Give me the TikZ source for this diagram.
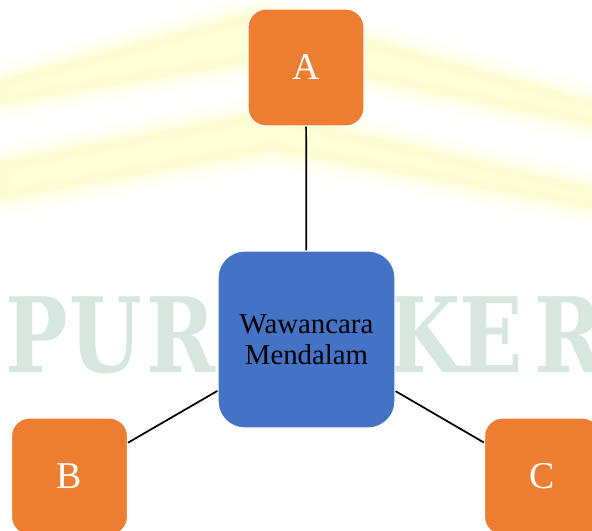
\documentclass[tikz,border=0pt]{standalone}
\usepackage{fontspec}
\setmainfont{Liberation Serif}
\newfontfamily\markfont{DejaVu Serif}
\definecolor{boxorange}{HTML}{ED7D31}
\definecolor{boxblue}{HTML}{4472C4}
\definecolor{markgreen}{RGB}{216,230,224}
\definecolor{markyellow}{RGB}{252,252,206}
\begin{document}
\begin{tikzpicture}[x=0.75pt,y=-0.75pt,
  outerbox/.style={rectangle, rounded corners=13.5pt, fill=boxorange, draw=white,
    line width=0.9pt, minimum width=87pt, minimum height=87.75pt, inner sep=0pt,
    text=white, font=\fontsize{28.4}{30}\selectfont},
  hubbox/.style={rectangle, rounded corners=20pt, fill=boxblue, draw=white,
    line width=0.9pt, minimum size=132.75pt, inner sep=0pt, align=center,
    text=black, font=\fontsize{21.6}{23.4}\selectfont},
  link/.style={draw=black, line width=1.3pt},
  wmletter/.style={anchor=base, inner sep=0pt, text=markgreen,
    font=\markfont\bfseries\fontsize{78}{78}\selectfont}]
\useasboundingbox (0,0) rectangle (592,531);
\clip (0,0) rectangle (592,531);

% soft yellow chevron bands in the background
\foreach \w/\o in {26/0.12, 18/0.16, 11/0.22, 5/0.3} {
  \draw[markyellow, line width=\w pt, opacity=\o, line join=round]
    (0,80) -- (262,10) -- (600,103) -- (600,127) -- (270,60) -- (0,104) -- cycle;
  \draw[markyellow, line width=\w pt, opacity=\o, line join=round]
    (0,162) -- (262,112) -- (600,189) -- (600,210) -- (272,151) -- (0,200) -- cycle;
}
\fill[markyellow, opacity=0.8] (0,80) -- (262,10) -- (600,103) -- (600,127) -- (270,60) -- (0,104) -- cycle;
\fill[markyellow, opacity=0.8] (0,162) -- (262,112) -- (600,189) -- (600,210) -- (272,151) -- (0,200) -- cycle;

% faint lettering behind the diagram
\node[wmletter] (wP) at (37,372) {\scalebox{0.8}[1]{P}};
\node[wmletter] (wU) at (106,372) {\scalebox{0.8}[1]{U}};
\node[wmletter] (wR) at (181,372) {\scalebox{0.8}[1]{R}};
\node[wmletter] (wK) at (425,372) {\scalebox{0.8}[1]{K}};
\node[wmletter] (wE) at (491,372) {\scalebox{0.8}[1]{E}};
\node[wmletter] (wR2) at (569,372) {\scalebox{0.8}[1]{R}};

% diagram
\node[hubbox] (M) at (306.5,339.5) {Wawancara\\Mendalam};
\node[outerbox] (A) at (306,67.5) {A};
\node[outerbox] (B) at (69.5,476.5) {B};
\node[outerbox] (C) at (542.5,476.5) {C};

\draw[link] (A) -- (M);
\draw[link] (B) -- (M);
\draw[link] (C) -- (M);
\end{tikzpicture}
\end{document}
